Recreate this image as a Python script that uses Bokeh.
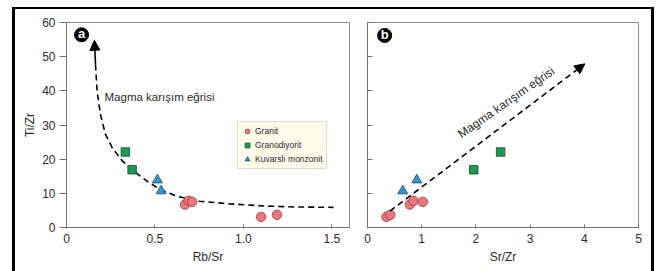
from bokeh.plotting import figure
from bokeh.layouts import row
from bokeh.models import Range1d, FixedTicker, Arrow, NormalHead, CustomLabelingPolicy
from bokeh.core.properties import value
from bokeh.embed import file_html
from bokeh.resources import INLINE

# ---------------- data ----------------
# Granit
granit_rbsr = [1.10, 1.19, 0.67, 0.69, 0.71]
granit_srzr = [0.35, 0.42, 0.78, 0.85, 1.02]
granit_tizr = [3.1, 3.7, 6.7, 7.8, 7.5]
# Granodiyorit
grd_rbsr = [0.333, 0.371]
grd_srzr = [2.456, 1.96]
grd_tizr = [22.1, 16.9]
# Kuvarsli monzonit
kmz_rbsr = [0.514, 0.535]
kmz_srzr = [0.91, 0.65]
kmz_tizr = [13.9, 10.7]

# mixing curve (panel a), from arrow tip downwards
curve_rbsr = [0.158, 0.164, 0.173, 0.192, 0.220, 0.258, 0.315, 0.390, 0.465,
              0.540, 0.634, 0.750, 0.927, 1.115, 1.30, 1.51]
curve_tizr = [54.8, 47.7, 39.9, 33.1, 27.3, 23.4, 19.5, 16.1, 13.2,
              10.8, 9.0, 7.7, 6.9, 6.3, 6.0, 5.9]

# mixing trend (panel b): start and end of the arrow
trend_srzr = [0.415, 4.01]
trend_tizr = [4.8, 47.9]

xa_ticks = [0, 0.5, 1, 1.5]
xa_labels = {0: "0", 0.5: "0.5", 1: "1.0", 1.5: "1.5"}
xb_ticks = [0, 1, 2, 3, 4, 5]
y_ticks = [0, 10, 20, 30, 40, 50, 60]

series_label = ["Granit", "Granodiyorit", "Kuvarslı monzonit"]
curve_label = "Magma karışım eğrisi"

# ---------------- styles ----------------
FONT = "Liberation Sans"
C_GRANIT = ("#e8767b", "#9a3c40")
C_GRD = ("#1f9a52", "#18432a")
C_KMZ = ("#2c98cf", "#1b4966")
AX = "#707070"
TXT = "#2a2a2a"
H = 262


def style_axes(p):
    p.outline_line_color = "#8c8c8c"
    p.outline_line_width = 1
    p.xgrid.visible = False
    p.ygrid.visible = False
    for ax in (p.xaxis[0], p.yaxis[0]):
        ax.axis_line_color = AX
        ax.major_tick_line_color = AX
        ax.minor_tick_line_color = None
        ax.major_label_text_font = FONT
        ax.major_label_text_font_size = "12px"
        ax.major_label_text_color = TXT
        ax.axis_label_text_font = FONT
        ax.axis_label_text_font_size = "12px"
        ax.axis_label_text_font_style = "normal"
        ax.axis_label_text_color = TXT
    p.xaxis.major_tick_in = 3
    p.xaxis.major_tick_out = 1
    p.xaxis.major_label_standoff = 5
    p.xaxis.axis_label_standoff = 4


def add_points(p, xs, legend):
    def lg(i):
        return {"legend_label": series_label[i]} if legend else {}
    p.scatter(xs[0], granit_tizr, marker="circle", size=9.5,
              fill_color=C_GRANIT[0], line_color=C_GRANIT[1], line_width=0.8, **lg(0))
    p.scatter(xs[1], grd_tizr, marker="square", size=8.5,
              fill_color=C_GRD[0], line_color=C_GRD[1], line_width=0.8, **lg(1))
    p.scatter(xs[2], kmz_tizr, marker="triangle", size=10,
              fill_color=C_KMZ[0], line_color=C_KMZ[1], line_width=0.8, **lg(2))


def panel_badge(p, x, y, letter):
    p.scatter([x], [y], marker="circle", size=14, fill_color="black", line_color="black")
    p.text([x], [y], text=[letter], text_color="white", text_font=value(FONT),
           text_font_style="bold", text_font_size="13px",
           text_align="center", text_baseline="middle", y_offset=-1)


# ---------------- panel a ----------------
WA = 336
pa = figure(width=WA, height=H, output_backend="svg", toolbar_location=None,
            x_range=Range1d(0, 1.6), y_range=Range1d(0, 60),
            min_border_left=51, min_border_right=2, min_border_top=13, min_border_bottom=44,
            background_fill_color="white", border_fill_color="white")
style_axes(pa)
pa.xaxis.axis_label = "Rb/Sr"
pa.yaxis.axis_label = "Ti/Zr"
pa.xaxis.ticker = FixedTicker(ticks=xa_ticks)
pa.xaxis.major_label_overrides = xa_labels
pa.yaxis.ticker = FixedTicker(ticks=y_ticks)
pa.yaxis.major_tick_in = 0
pa.yaxis.major_tick_out = 7
pa.yaxis.major_label_standoff = 4
pa.yaxis.axis_label_standoff = 2

pa.line(curve_rbsr[1:], curve_tizr[1:], line_color="black", line_width=1.6, line_dash="6 4")
pa.add_layout(Arrow(x_start=curve_rbsr[1], y_start=curve_tizr[1],
                    x_end=curve_rbsr[0], y_end=curve_tizr[0],
                    line_color="black", line_width=1.6,
                    end=NormalHead(size=10, fill_color="black", line_color="black", line_width=1)))
add_points(pa, (granit_rbsr, grd_rbsr, kmz_rbsr), True)
pa.text([0.215], [38.3], text=[curve_label], text_font=value(FONT), text_font_size="11.5px",
        text_color=TXT, text_align="left", text_baseline="middle")
panel_badge(pa, 0.085, 56.4, "a")

lg = pa.legend[0]
lg.location = (171, 58)
lg.label_text_font = FONT
lg.label_text_font_size = "8.5px"
lg.label_text_color = TXT
lg.glyph_width = 12
lg.glyph_height = 12
lg.label_height = 12
lg.label_standoff = 2
lg.spacing = 2
lg.padding = 3
lg.margin = 0
lg.border_line_color = "#c9bf9c"
lg.border_line_width = 1
lg.background_fill_color = "#fffbea"
lg.background_fill_alpha = 1

# ---------------- panel b ----------------
WB = 300
pb = figure(width=WB, height=H, output_backend="svg", toolbar_location=None,
            x_range=Range1d(0, 5), y_range=Range1d(0, 60),
            min_border_left=2, min_border_right=13, min_border_top=13, min_border_bottom=44,
            background_fill_color="white", border_fill_color="white")
style_axes(pb)
pb.xaxis.axis_label = "Sr/Zr"
pb.xaxis.ticker = FixedTicker(ticks=xb_ticks)
pb.yaxis.ticker = FixedTicker(ticks=y_ticks)
pb.yaxis.major_tick_in = 5
pb.yaxis.major_tick_out = 0
pb.yaxis.major_label_standoff = 0
pb.yaxis.major_label_policy = CustomLabelingPolicy(code="for (const i of []) { yield i }")

pb.add_layout(Arrow(x_start=trend_srzr[0], y_start=trend_tizr[0],
                    x_end=trend_srzr[1], y_end=trend_tizr[1],
                    line_color="black", line_width=1.6, line_dash="6 4",
                    end=NormalHead(size=10, fill_color="black", line_color="black", line_width=1)))
add_points(pb, (granit_srzr, grd_srzr, kmz_srzr), False)
pb.text([2.56], [36.6], text=[curve_label], text_font=value(FONT), text_font_size="12px",
        text_color=TXT, text_align="center", text_baseline="middle", angle=0.61)
panel_badge(pb, 0.316, 56.2, "b")

layout = row(pa, pb, styles={"border-left": "3px solid black",
                             "border-top": "2px solid black",
                             "border-right": "3px solid black",
                             "margin-left": "12px",
                             "margin-top": "7px"})

open("out.html", "w").write(file_html(layout, INLINE))
